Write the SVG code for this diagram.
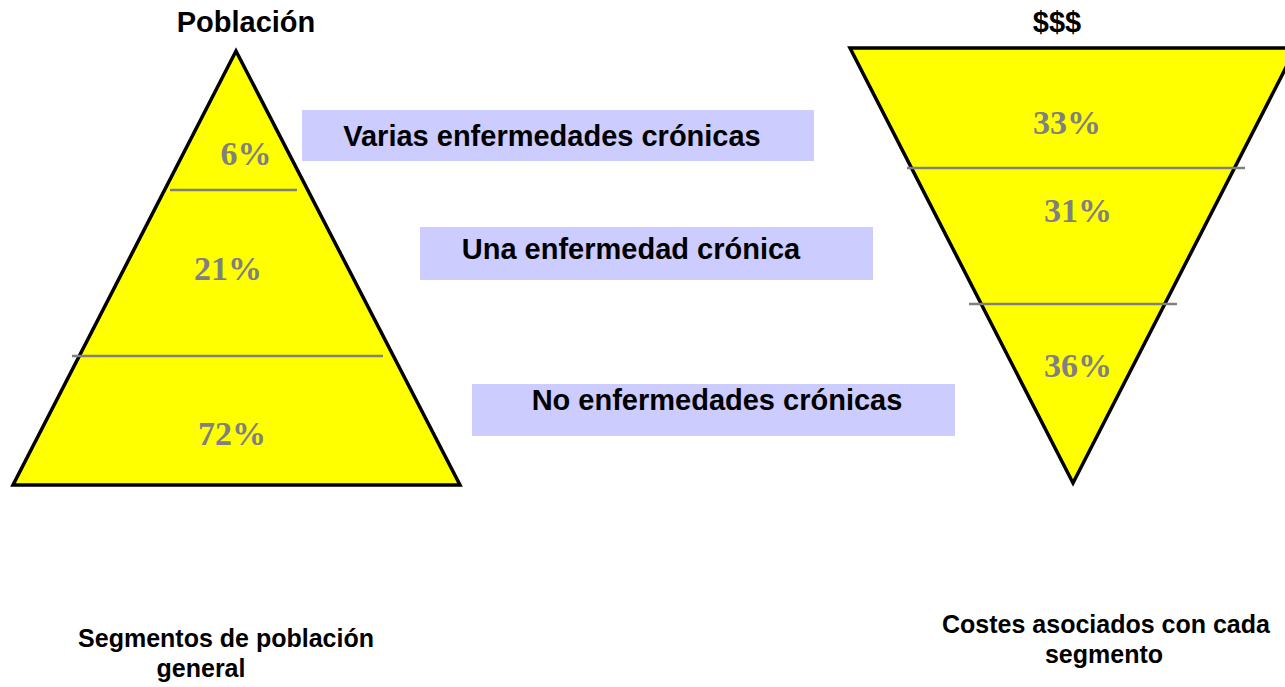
<svg xmlns="http://www.w3.org/2000/svg" width="1285" height="687" viewBox="0 0 1285 687">
<style>
.tri{fill:#FFFF00;stroke:#000;stroke-width:3.5;stroke-linejoin:miter}
.div{stroke:#808080;stroke-width:2.5}
.pct{font-family:"Liberation Serif",serif;font-weight:bold;font-size:34px;fill:#808080;text-anchor:middle}
.box{fill:#CCCCFF}
.lbl{font-family:"Liberation Sans",Arial,sans-serif;font-weight:bold;font-size:29px;fill:#000;text-anchor:middle}
.ttl{font-family:"Liberation Sans",Arial,sans-serif;font-weight:bold;font-size:29px;fill:#000;text-anchor:middle}
.cap{font-family:"Liberation Sans",Arial,sans-serif;font-weight:bold;font-size:25px;fill:#000;text-anchor:middle}
</style>
<rect width="1285" height="687" fill="#fff"/>
<g id="pyramid-left">
<polygon class="tri" points="236,51 460,485 13,485"/>
<line class="div" x1="170" y1="190" x2="297" y2="190"/>
<line class="div" x1="72" y1="356" x2="383" y2="356"/>
<text class="pct" x="246" y="165">6%</text>
<text class="pct" x="228" y="280">21%</text>
<text class="pct" x="232" y="445">72%</text>
</g>
<g id="pyramid-right">
<polygon class="tri" points="850,48 1296,48 1073,483"/>
<line class="div" x1="907" y1="168" x2="1245" y2="168"/>
<line class="div" x1="969" y1="304" x2="1177" y2="304"/>
<text class="pct" x="1067" y="134">33%</text>
<text class="pct" x="1078" y="222">31%</text>
<text class="pct" x="1078" y="377">36%</text>
</g>
<g id="label-varias">
<rect class="box" x="302" y="110" width="512" height="51"/>
<text class="lbl" x="552" y="146">Varias enfermedades crónicas</text>
</g>
<g id="label-una">
<rect class="box" x="420" y="227" width="453" height="53"/>
<text class="lbl" x="631" y="259">Una enfermedad crónica</text>
</g>
<g id="label-no">
<rect class="box" x="472" y="384" width="483" height="52"/>
<text class="lbl" x="717" y="410">No enfermedades crónicas</text>
</g>
<g id="title-left"><text class="ttl" x="246" y="32">Población</text></g>
<g id="title-right"><text class="ttl" x="1057" y="32">$$$</text></g>
<g id="caption-left">
<text class="cap" x="226" y="647">Segmentos de población</text>
<text class="cap" x="201" y="677">general</text>
</g>
<g id="caption-right">
<text class="cap" x="1106" y="633">Costes asociados con cada</text>
<text class="cap" x="1104" y="663">segmento</text>
</g>
<g id="connectors"></g>
</svg>
